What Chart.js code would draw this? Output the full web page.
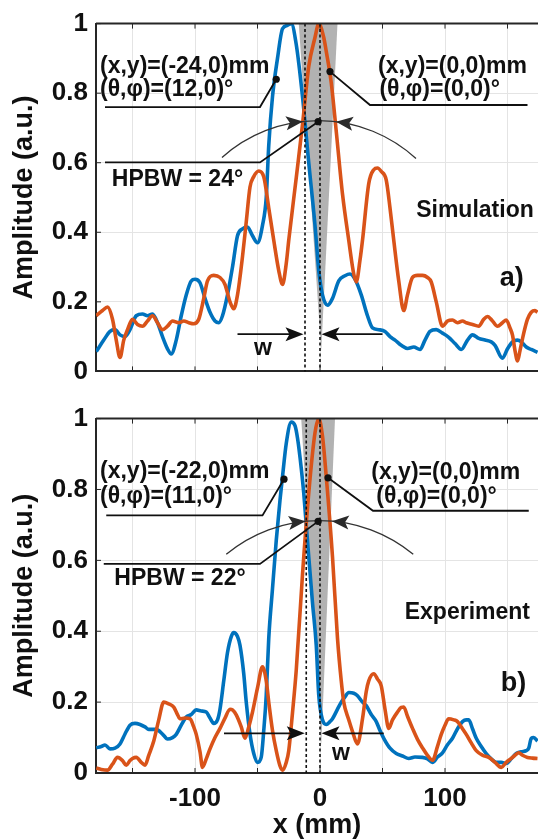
<!DOCTYPE html>
<html>
<head>
<meta charset="utf-8">
<script src="https://cdn.jsdelivr.net/npm/chart.js@4.4.0/dist/chart.umd.min.js"></script>
<style>
  html, body { margin: 0; padding: 0; background: #ffffff; overflow: hidden; }
  #wrap { position: relative; width: 538px; height: 840px; }
  canvas { position: absolute; left: 0; }
  #simCanvas { top: 0; }
  #expCanvas { top: 395px; }
</style>
</head>
<body>
<div id="wrap">
  <canvas id="simCanvas" width="538" height="395"></canvas>
  <canvas id="expCanvas" width="538" height="445"></canvas>
</div>
<script>
// ---- axis ticks ----
const X_GRID = [-150, -100, -50, 0, 50, 100, 150];
const X_LABELS = [-100, 0, 100];
const Y_TICKS = [0, 0.2, 0.4, 0.6, 0.8, 1];

// ---- a) Simulation: beam steered to x = -24 mm (blue) ----
const simSteeredX = [-179,-173,-168,-164,-160,-156,-152,-147,-142,-138,-134,-130,-126,-122,-119,-115,-111,-107,-103,-100,-96,-92,-88,-84,-81,-78,-74,-70,-66,-62,-58,-54,-50,-46,-43,-41,-38,-34,-30,-26,-23,-19,-14,-9,-4,-1,2,6,10,15,20,24,28,33,38,42,47,52,56,60,65,70,75,80,84,88,93,98,103,108,113,118,122,127,132,137,140,146,150,154,158,161,165,169,174];
const simSteeredY = [0.057,0.09,0.115,0.12,0.105,0.10,0.12,0.16,0.165,0.16,0.165,0.14,0.10,0.065,0.05,0.09,0.16,0.22,0.26,0.265,0.255,0.21,0.17,0.145,0.14,0.16,0.22,0.30,0.39,0.41,0.415,0.39,0.37,0.42,0.50,0.65,0.79,0.90,0.985,0.995,1.0,0.94,0.79,0.60,0.42,0.29,0.22,0.19,0.21,0.26,0.275,0.28,0.265,0.22,0.16,0.125,0.12,0.115,0.10,0.09,0.075,0.066,0.07,0.063,0.09,0.115,0.12,0.11,0.098,0.08,0.063,0.09,0.105,0.095,0.09,0.085,0.075,0.038,0.065,0.085,0.09,0.085,0.07,0.063,0.055];

// ---- a) Simulation: broadside beam at x = 0 (orange) ----
const simBroadX = [-179,-174,-170,-166,-163,-160,-157,-154,-150,-146,-142,-138,-134,-130,-126,-122,-118,-113,-109,-105,-101,-97,-93,-90,-85,-80,-76,-72,-69,-66,-62,-59,-56,-53,-49,-45,-41,-37,-33,-30,-27,-25,-19,-14,-9,-4,-1,3,5,9,13,18,23,27,29,32,34,39,43,46,49,53,56,59,63,67,70,74,78,82,86,89,93,98,102,106,110,114,117,122,127,131,134,138,142,146,149,152,154,156,158,160,163,166,169,172,174];
const simBroadY = [0.16,0.175,0.185,0.15,0.09,0.04,0.09,0.12,0.15,0.135,0.13,0.145,0.16,0.14,0.12,0.13,0.145,0.14,0.145,0.14,0.137,0.15,0.21,0.26,0.276,0.27,0.25,0.20,0.18,0.22,0.33,0.43,0.53,0.56,0.576,0.56,0.47,0.377,0.29,0.25,0.31,0.377,0.557,0.71,0.877,0.96,1.0,0.96,0.92,0.83,0.69,0.51,0.377,0.28,0.257,0.32,0.377,0.54,0.58,0.585,0.575,0.55,0.47,0.377,0.26,0.175,0.22,0.27,0.276,0.276,0.27,0.257,0.20,0.13,0.145,0.148,0.14,0.145,0.14,0.135,0.13,0.15,0.158,0.145,0.13,0.14,0.148,0.125,0.104,0.06,0.03,0.06,0.11,0.15,0.17,0.175,0.17];

// ---- b) Experiment: beam steered to x = -22 mm (blue) ----
const expSteeredX = [-179,-175,-172,-168,-164,-160,-156,-152,-148,-144,-140,-137,-131,-126,-122,-118,-115,-111,-107,-103,-99,-95,-91,-88,-85,-82,-80,-77,-74,-71,-69,-66,-64,-61,-59,-56,-53,-50,-47,-45,-43,-41,-38,-35,-32,-30,-27,-23,-20,-18,-15,-13,-9,-6,-3,-1,2,5,8,10,14,17,20,23,27,30,34,37,41,45,48,51,56,61,66,71,76,82,86,90,94,98,102,106,110,114,117,119,122,125,129,133,137,141,145,149,153,157,161,165,167,169,171,174];
const expSteeredY = [0.071,0.075,0.079,0.068,0.07,0.082,0.11,0.135,0.14,0.137,0.13,0.123,0.123,0.11,0.096,0.10,0.109,0.135,0.158,0.165,0.178,0.175,0.172,0.155,0.14,0.15,0.18,0.26,0.34,0.385,0.396,0.385,0.36,0.28,0.20,0.11,0.055,0.03,0.045,0.12,0.22,0.38,0.52,0.656,0.77,0.836,0.93,0.99,0.98,0.945,0.86,0.79,0.61,0.48,0.36,0.22,0.15,0.137,0.145,0.153,0.18,0.20,0.215,0.227,0.225,0.218,0.20,0.19,0.165,0.145,0.12,0.098,0.07,0.055,0.048,0.041,0.045,0.044,0.04,0.03,0.045,0.057,0.08,0.098,0.125,0.145,0.15,0.15,0.125,0.098,0.075,0.055,0.04,0.03,0.03,0.027,0.04,0.055,0.06,0.063,0.07,0.098,0.10,0.09];

// ---- b) Experiment: broadside beam at x = 0 (orange) ----
const expBroadX = [-179,-175,-170,-166,-162,-158,-155,-152,-150,-147,-143,-140,-137,-133,-129,-125,-121,-117,-114,-112,-108,-104,-101,-99,-96,-94,-91,-88,-84,-80,-76,-72,-70,-67,-63,-60,-57,-54,-50,-46,-43,-41,-38,-35,-32,-30,-27,-25,-22,-19,-14,-9,-4,-1,2,5,10,14,17,19,23,26,30,34,37,39,43,46,49,52,55,58,62,65,67,70,74,78,82,86,90,94,97,100,103,107,110,114,117,121,125,130,135,140,145,149,153,156,159,162,166,170,174];
const expBroadY = [0.014,0.01,0.008,0.025,0.044,0.035,0.022,0.035,0.041,0.044,0.03,0.022,0.05,0.09,0.15,0.20,0.195,0.186,0.165,0.153,0.155,0.153,0.13,0.109,0.06,0.016,0.04,0.068,0.10,0.126,0.155,0.18,0.178,0.164,0.13,0.098,0.13,0.172,0.24,0.30,0.26,0.20,0.12,0.063,0.02,0.008,0.03,0.063,0.17,0.29,0.56,0.79,0.96,1.0,0.95,0.836,0.61,0.38,0.26,0.20,0.15,0.117,0.082,0.153,0.23,0.26,0.28,0.265,0.246,0.18,0.126,0.15,0.172,0.185,0.186,0.16,0.126,0.095,0.071,0.05,0.036,0.075,0.109,0.135,0.153,0.15,0.145,0.125,0.109,0.085,0.063,0.05,0.044,0.03,0.016,0.03,0.041,0.05,0.057,0.05,0.044,0.042,0.041];

// ---- annotation content (text + anchor points in x mm / amplitude) ----
const simNotes = {
  wedge: { left: -17, right: 14, tipX: 1, tipY: 0.06 },
  dashed: [-12, 0],
  leftLines: ['(x,y)=(-24,0)mm', '(θ,φ)=(12,0)°'],
  leftText: [[-176, 0.877], [-176, 0.809]],
  leftLeader: [[-172, 0.760], [-48, 0.760], [-35, 0.840]],
  rightLines: ['(x,y)=(0,0)mm', '(θ,φ)=(0,0)°'],
  rightText: [[46.4, 0.877], [47.5, 0.809]],
  rightLeader: [[8, 0.862], [40, 0.766], [166, 0.766]],
  hpbw: 'HPBW = 24°',
  hpbwText: [-114, 0.552],
  hpbwLeader: [[-172, 0.601], [-48, 0.601], [-1.5, 0.718]],
  arc: [[-78.4, 0.615], [0, 0.721], [76.8, 0.612]],
  arcTips: [-13.6, 12.8],
  wLevel: 0.107, wLeft: [-66, -12], wRight: [50, 0],
  wText: [-45.6, 0.066],
  name: 'Simulation', nameAt: [171, 0.462],
  tag: 'a)', tagAt: [163, 0.268]
};
const expNotes = {
  wedge: { left: -15, right: 12, tipX: 1, tipY: 0.08 },
  dashed: [-11, 0],
  leftLines: ['(x,y)=(-22,0)mm', '(θ,φ)=(11,0)°'],
  leftText: [[-176, 0.850], [-176, 0.781]],
  leftLeader: [[-171, 0.727], [-46, 0.727], [-28.8, 0.829]],
  rightLines: ['(x,y)=(0,0)mm', '(θ,φ)=(0,0)°'],
  rightText: [[41, 0.847], [45, 0.781]],
  rightLeader: [[6.4, 0.833], [42.4, 0.740], [167, 0.740]],
  hpbw: 'HPBW = 22°',
  hpbwText: [-112, 0.549],
  hpbwLeader: [[-173, 0.590], [-48, 0.590], [-1.5, 0.710]],
  arc: [[-75, 0.617], [0, 0.712], [74.6, 0.617]],
  arcTips: [-11.5, 9.5],
  wLevel: 0.112, wLeft: [-76.8, -11], wRight: [51, 0],
  wText: [16.8, 0.055],
  name: 'Experiment', nameAt: [168, 0.452],
  tag: 'b)', tagAt: [165, 0.251]
};

const BLUE = '#0072BD';
const ORANGE = '#D95319';
const INK = '#101010';
const FONT = '"Liberation Sans", Arial, Helvetica, sans-serif';
Chart.defaults.font.family = FONT;

function circleThrough(a, b, c) {
  const d = 2 * (a[0] * (b[1] - c[1]) + b[0] * (c[1] - a[1]) + c[0] * (a[1] - b[1]));
  const s1 = a[0] * a[0] + a[1] * a[1], s2 = b[0] * b[0] + b[1] * b[1], s3 = c[0] * c[0] + c[1] * c[1];
  const cx = (s1 * (b[1] - c[1]) + s2 * (c[1] - a[1]) + s3 * (a[1] - b[1])) / d;
  const cy = (s1 * (c[0] - b[0]) + s2 * (a[0] - c[0]) + s3 * (b[0] - a[0])) / d;
  return { cx, cy, r: Math.hypot(a[0] - cx, a[1] - cy) };
}

function arrowHead(ctx, tx, ty, dx, dy, len, half) {
  const bx = tx - dx * len, by = ty - dy * len;
  ctx.beginPath();
  ctx.moveTo(tx, ty);
  ctx.lineTo(bx - dy * half, by + dx * half);
  ctx.lineTo(tx - dx * len * 0.78, ty - dy * len * 0.78);
  ctx.lineTo(bx + dy * half, by - dx * half);
  ctx.closePath();
  ctx.fill();
}

function notesPlugin(n) {
  return {
    id: 'beamNotes',
    beforeDatasetsDraw(chart) {
      const { ctx, chartArea: ca } = chart;
      const X = v => chart.scales.x.getPixelForValue(v);
      const Y = v => chart.scales.y.getPixelForValue(v);
      ctx.save();
      ctx.beginPath();
      ctx.rect(ca.left, ca.top, ca.right - ca.left, ca.bottom - ca.top);
      ctx.clip();
      ctx.fillStyle = '#b2b2b2';
      ctx.beginPath();
      ctx.moveTo(X(n.wedge.left), Y(1));
      ctx.lineTo(X(n.wedge.right), Y(1));
      ctx.lineTo(X(n.wedge.tipX), Y(n.wedge.tipY));
      ctx.closePath();
      ctx.fill();
      ctx.restore();
    },
    afterDatasetsDraw(chart) {
      const { ctx, chartArea: ca } = chart;
      const X = v => chart.scales.x.getPixelForValue(v);
      const Y = v => chart.scales.y.getPixelForValue(v);
      const P = p => [X(p[0]), Y(p[1])];
      ctx.save();

      // dotted guide lines
      ctx.strokeStyle = INK;
      ctx.lineWidth = 1.6;
      ctx.setLineDash([3, 2.5]);
      n.dashed.forEach(v => {
        ctx.beginPath();
        ctx.moveTo(X(v), ca.top);
        ctx.lineTo(X(v), ca.bottom);
        ctx.stroke();
      });
      ctx.setLineDash([]);

      // beam-width arc with its two arrowheads
      const pts = n.arc.map(P);
      const c = circleThrough(pts[0], pts[1], pts[2]);
      const a0 = Math.atan2(pts[0][1] - c.cy, pts[0][0] - c.cx);
      const a1 = Math.atan2(pts[2][1] - c.cy, pts[2][0] - c.cx);
      ctx.strokeStyle = '#333333';
      ctx.lineWidth = 1.3;
      ctx.beginPath();
      ctx.arc(c.cx, c.cy, c.r, a0, a1, false);
      ctx.stroke();
      ctx.fillStyle = '#2a2a2a';
      n.arcTips.forEach((v, i) => {
        const tx = X(v);
        const ty = c.cy - Math.sqrt(c.r * c.r - (tx - c.cx) * (tx - c.cx));
        const th = Math.atan2(ty - c.cy, tx - c.cx);
        let dx = -Math.sin(th), dy = Math.cos(th);
        if (i === 1) { dx = -dx; dy = -dy; }
        arrowHead(ctx, tx, ty, dx, dy, 17, 7);
      });

      // leader lines and their dots
      ctx.strokeStyle = INK;
      ctx.fillStyle = INK;
      ctx.lineWidth = 1.8;
      [n.leftLeader, n.rightLeader, n.hpbwLeader].forEach((line, k) => {
        const q = line.map(P);
        ctx.beginPath();
        ctx.moveTo(q[0][0], q[0][1]);
        for (let i = 1; i < q.length; i++) ctx.lineTo(q[i][0], q[i][1]);
        ctx.stroke();
        const d = k === 1 ? q[0] : q[q.length - 1];
        ctx.beginPath();
        ctx.arc(d[0], d[1], 3.6, 0, Math.PI * 2);
        ctx.fill();
      });

      // w markers
      const wy = Y(n.wLevel);
      ctx.lineWidth = 1.8;
      ctx.beginPath();
      ctx.moveTo(X(n.wLeft[0]), wy); ctx.lineTo(X(n.wLeft[1]) - 8, wy);
      ctx.moveTo(X(n.wRight[0]), wy); ctx.lineTo(X(n.wRight[1]) + 8, wy);
      ctx.stroke();
      arrowHead(ctx, X(n.wLeft[1]) - 1.5, wy, 1, 0, 18, 7);
      arrowHead(ctx, X(n.wRight[1]) + 1.5, wy, -1, 0, 18, 7);

      // texts
      ctx.fillStyle = INK;
      ctx.textBaseline = 'middle';
      ctx.textAlign = 'left';
      ctx.font = 'bold 23px ' + FONT;
      n.leftLines.forEach((t, i) => ctx.fillText(t, X(n.leftText[i][0]), Y(n.leftText[i][1])));
      n.rightLines.forEach((t, i) => ctx.fillText(t, X(n.rightText[i][0]), Y(n.rightText[i][1])));
      ctx.textAlign = 'center';
      ctx.fillText('w', X(n.wText[0]), Y(n.wText[1]));
      ctx.fillText(n.hpbw, X(n.hpbwText[0]), Y(n.hpbwText[1]));
      ctx.textAlign = 'right';
      ctx.fillText(n.name, X(n.nameAt[0]), Y(n.nameAt[1]));
      ctx.font = 'bold 27px ' + FONT;
      ctx.fillText(n.tag, X(n.tagAt[0]), Y(n.tagAt[1]));

      // box top edge and inward tick marks
      ctx.strokeStyle = '#262626';
      ctx.lineWidth = 2;
      ctx.beginPath();
      ctx.moveTo(ca.left, ca.top);
      ctx.lineTo(ca.right, ca.top);
      ctx.stroke();
      ctx.lineWidth = 1;
      ctx.beginPath();
      X_GRID.forEach(v => {
        const px = X(v);
        ctx.moveTo(px, ca.bottom); ctx.lineTo(px, ca.bottom - 5);
        ctx.moveTo(px, ca.top); ctx.lineTo(px, ca.top + 5);
      });
      Y_TICKS.forEach(v => {
        const py = Y(v);
        ctx.moveTo(ca.left, py); ctx.lineTo(ca.left + 5, py);
      });
      ctx.stroke();
      ctx.restore();
    }
  };
}

function makePanel(id, blue, orange, notes, withXAxis, padTop, xAxisHeight) {
  const series = [
    { x: blue[0], y: blue[1], color: BLUE, order: 1 },
    { x: orange[0], y: orange[1], color: ORANGE, order: 0 }
  ];
  return new Chart(document.getElementById(id), {
    type: 'line',
    data: {
      datasets: series.map(s => ({
        data: s.x.map((v, i) => ({ x: v, y: s.y[i] })),
        borderColor: s.color,
        borderWidth: 3.6,
        pointRadius: 0,
        fill: false,
        cubicInterpolationMode: 'monotone',
        order: s.order
      }))
    },
    options: {
      responsive: false,
      animation: false,
      devicePixelRatio: 1,
      layout: { padding: { top: padTop, left: 0, right: 0, bottom: 0 } },
      plugins: { legend: { display: false }, tooltip: { enabled: false } },
      scales: {
        x: {
          type: 'linear', min: -179.2, max: 174.4,
          afterBuildTicks: s => { s.ticks = X_GRID.map(v => ({ value: v })); },
          afterFit: s => { s.height = xAxisHeight; },
          grid: { color: '#e4e4e4', lineWidth: 1, drawTicks: false },
          border: { color: '#262626', width: 2 },
          ticks: {
            display: withXAxis, autoSkip: false, maxRotation: 0, padding: 10, color: INK,
            font: { size: 26, weight: 'bold' },
            callback: v => (X_LABELS.includes(v) ? String(v) : '')
          },
          title: {
            display: withXAxis, text: 'x (mm)', color: INK,
            font: { size: 27, weight: 'bold', lineHeight: 1 },
            padding: { top: 0, bottom: 1 }
          }
        },
        y: {
          min: 0, max: 1,
          afterBuildTicks: s => { s.ticks = Y_TICKS.map(v => ({ value: v })); },
          afterFit: s => { s.width = 96; },
          grid: { color: '#e4e4e4', lineWidth: 1, drawTicks: false },
          border: { color: '#262626', width: 2 },
          ticks: {
            padding: 8, color: INK, font: { size: 26, weight: 'bold' },
            callback: v => (v === 0 ? '0' : v === 1 ? '1' : v.toFixed(1))
          },
          title: {
            display: true, text: 'Amplitude (a.u.)', color: INK,
            font: { size: 27, weight: 'bold' },
            padding: { top: 8, bottom: 0 }
          }
        }
      }
    },
    plugins: [notesPlugin(notes)]
  });
}

makePanel('simCanvas', [simSteeredX, simSteeredY], [simBroadX, simBroadY], simNotes, false, 20, 9);
makePanel('expCanvas', [expSteeredX, expSteeredY], [expBroadX, expBroadY], expNotes, true, 12, 67);
</script>
</body>
</html>
